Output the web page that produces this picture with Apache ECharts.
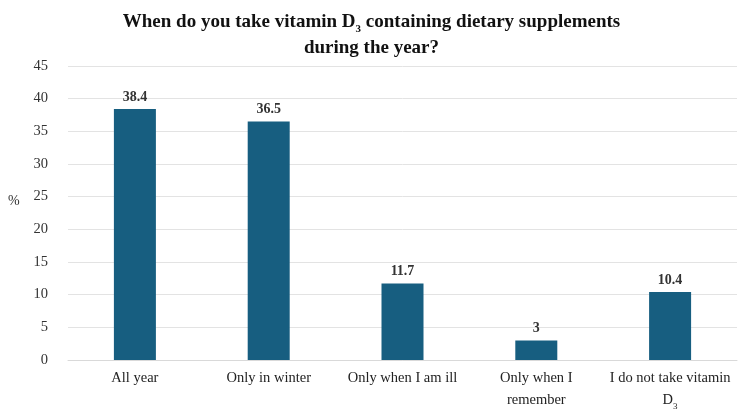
<!DOCTYPE html>
<html>
<head>
<meta charset="utf-8">
<script src="https://cdn.jsdelivr.net/npm/echarts@6/dist/echarts.min.js"></script>
<style>
  html, body { margin: 0; padding: 0; background: #fff; }
  #chart { width: 743px; height: 411px; }
</style>
</head>
<body>
<div id="chart"></div>
<script>
// categories (rich text markup for the subscript 3)
const categories = ["All year", "Only in winter", "Only when I am ill", "Only when I\nremember", "I do not take vitamin\nD{sub|3}"];
const values = [38.4, 36.5, 11.7, 3, 10.4];
const yTicks = [0, 5, 10, 15, 20, 25, 30, 35, 40, 45];

const FONT = "Liberation Serif";
const barColor = "#175e80";

let myChart = echarts.init(document.getElementById("chart"));
let option = {
  animation: false,
  textStyle: { fontFamily: FONT },
  title: {
    text: "When do you take vitamin D{sub|3} containing dietary supplements\nduring the year?",
    left: "center",
    top: 4,
    textStyle: {
      fontFamily: FONT,
      fontSize: 19,
      fontWeight: "bold",
      color: "#111",
      lineHeight: 26,
      rich: {
        sub: { fontFamily: FONT, fontSize: 11, fontWeight: "bold", color: "#111", verticalAlign: "bottom", padding: [10, 0, 0, 0], lineHeight: 26 }
      }
    }
  },
  graphic: [
    {
      type: "text",
      left: 8,
      top: 194,
      style: { text: "%", fontFamily: FONT, fontSize: 14, fill: "#333" }
    }
  ],
  grid: { left: 68, right: 6, top: 66, bottom: 51, containLabel: false, outerBoundsMode: "none" },
  xAxis: {
    type: "category",
    data: categories,
    axisLine: { lineStyle: { color: "#d9d9d9", width: 1 } },
    axisTick: { show: false },
    axisLabel: {
      fontFamily: FONT,
      fontSize: 14.5,
      color: "#222",
      margin: 7,
      lineHeight: 22,
      interval: 0,
      rich: {
        sub: { fontFamily: FONT, fontSize: 9, color: "#222", verticalAlign: "bottom", padding: [7, 0, 0, 0], lineHeight: 22 }
      }
    }
  },
  yAxis: {
    type: "value",
    min: yTicks[0],
    max: yTicks[yTicks.length - 1],
    interval: 5,
    axisLine: { show: false },
    axisTick: { show: false },
    axisLabel: { fontFamily: FONT, fontSize: 14.5, color: "#333", margin: 20 },
    splitLine: { lineStyle: { color: "#e3e3e3", width: 1 } }
  },
  series: [
    {
      type: "bar",
      data: values,
      barWidth: 42,
      itemStyle: { color: barColor },
      label: {
        show: true,
        position: "top",
        distance: 5,
        fontFamily: FONT,
        fontSize: 14,
        fontWeight: "bold",
        color: "#333"
      }
    }
  ]
};
myChart.setOption(option);
</script>
</body>
</html>
